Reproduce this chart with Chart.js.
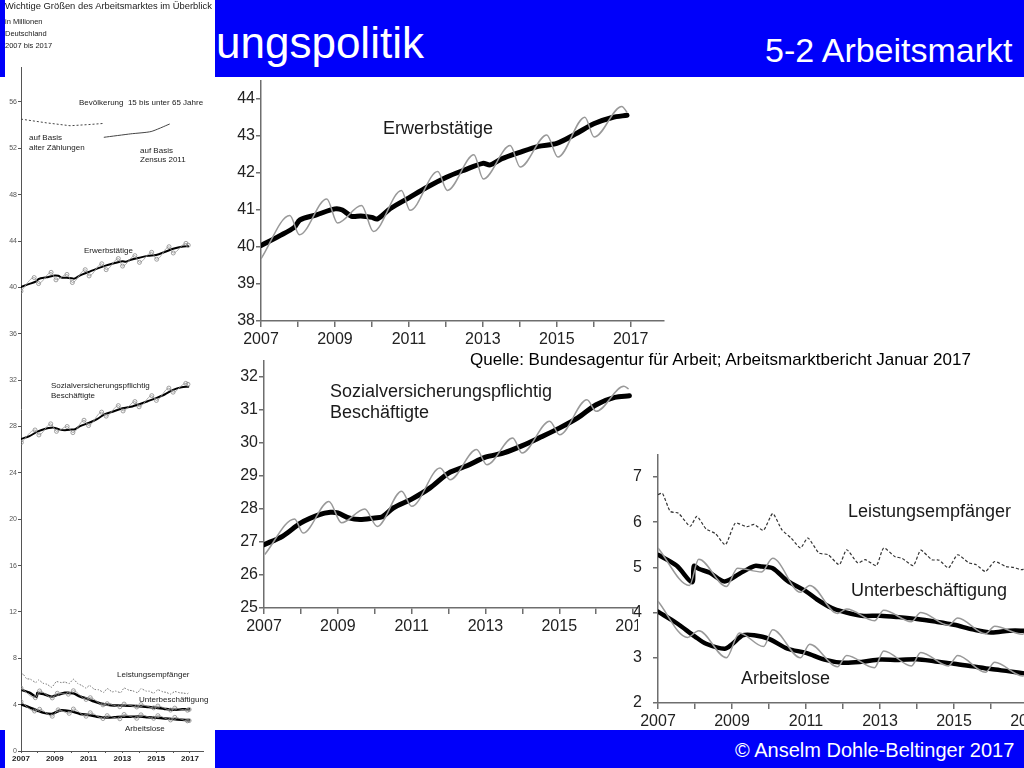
<!DOCTYPE html>
<html>
<head>
<meta charset="utf-8">
<script src="https://cdn.jsdelivr.net/npm/chart.js@4.4.1/dist/chart.umd.min.js"></script>
<style>
  body { margin: 0; width: 1024px; height: 768px; overflow: hidden; background: #fff;
         font-family: Arial, "Liberation Sans", sans-serif; position: relative; }
  .abs { position: absolute; }
  .t { position: absolute; white-space: nowrap; line-height: 1; color: #1a1a1a; }
  #header { left: 0; top: 0; width: 1024px; height: 77px; background: #0000fa; z-index: 0; }
  #footer { left: 0; top: 730px; width: 1024px; height: 38px; background: #0000fa; z-index: 5; }
  #leftPanel { left: 5px; top: 0; width: 210px; height: 768px; background: #fff; z-index: 6; }
  .clip { position: absolute; overflow: hidden; }
</style>
</head>
<body>
<div id="header" class="abs"></div>
<div class="t" style="left:216px;top:21px;font-size:44px;color:#fff;z-index:1">ungspolitik</div>
<div class="t" style="left:765px;top:33px;font-size:34px;color:#fff;z-index:1">5-2 Arbeitsmarkt</div>

<div class="abs" style="left:215px;top:77px;z-index:2"><canvas id="erwChart" width="455" height="280"></canvas></div>
<div class="t" style="left:383px;top:119px;font-size:18px;z-index:3">Erwerbstätige</div>
<div class="t" style="left:470px;top:351px;font-size:17px;color:#000;z-index:3">Quelle: Bundesagentur für Arbeit; Arbeitsmarktbericht Januar 2017</div>

<div class="clip" style="left:220px;top:355px;width:418px;height:295px;z-index:2"><canvas id="svbChart" width="480" height="295"></canvas></div>
<div class="t" style="left:330px;top:381px;font-size:18px;line-height:21px;z-index:3">Sozialversicherungspflichtig<br>Beschäftigte</div>

<div class="clip" style="left:628px;top:445px;width:396px;height:290px;z-index:3"><canvas id="aloChart" width="460" height="290"></canvas></div>
<div class="t" style="left:848px;top:502px;font-size:18px;z-index:4">Leistungsempfänger</div>
<div class="t" style="left:851px;top:581px;font-size:18px;z-index:4">Unterbeschäftigung</div>
<div class="t" style="left:741px;top:669px;font-size:18px;z-index:4">Arbeitslose</div>

<div id="footer" class="abs"></div>
<div class="t" style="left:735px;top:740px;font-size:20px;color:#fff;z-index:5">© Anselm Dohle-Beltinger 2017</div>

<div id="leftPanel" class="abs">
  <canvas id="overviewChart" width="210" height="768"></canvas>
  <div class="t" style="left:0;top:1px;font-size:9.4px">Wichtige Größen des Arbeitsmarktes im Überblick</div>
  <div class="t" style="left:0;top:18px;font-size:7.5px">in Millionen</div>
  <div class="t" style="left:0;top:30px;font-size:7.5px">Deutschland</div>
  <div class="t" style="left:0;top:42px;font-size:7.5px">2007 bis 2017</div>
  <div class="t" style="left:74px;top:99px;font-size:8px">Bevölkerung&nbsp; 15 bis unter 65 Jahre</div>
  <div class="t" style="left:24px;top:133px;font-size:8px;line-height:10px">auf Basis<br>alter Zählungen</div>
  <div class="t" style="left:135px;top:146px;font-size:8px;line-height:9px">auf Basis<br>Zensus 2011</div>
  <div class="t" style="left:79px;top:247px;font-size:8px">Erwerbstätige</div>
  <div class="t" style="left:46px;top:381px;font-size:8px;line-height:10px">Sozialversicherungspflichtig<br>Beschäftigte</div>
  <div class="t" style="left:112px;top:671px;font-size:8px">Leistungsempfänger</div>
  <div class="t" style="left:134px;top:696px;font-size:8px">Unterbeschäftigung</div>
  <div class="t" style="left:120px;top:725px;font-size:8px">Arbeitslose</div>
</div>

<script>
// Erwerbstätige (Mio.)
const erwTrendX = [2007.0, 2007.5, 2007.9, 2008.05, 2008.5, 2009.0, 2009.2, 2009.45, 2009.7, 2010.0, 2010.15, 2010.5, 2011.0, 2011.5, 2012.0, 2012.5, 2013.0, 2013.2, 2013.5, 2014.0, 2014.5, 2015.0, 2015.5, 2016.0, 2016.5, 2016.9];
const erwTrendY = [40.04, 40.3, 40.53, 40.73, 40.87, 41.03, 41.0, 40.83, 40.84, 40.8, 40.76, 41.04, 41.33, 41.62, 41.88, 42.08, 42.26, 42.22, 42.38, 42.56, 42.72, 42.8, 43.05, 43.33, 43.5, 43.56];
const erwRawX = [2007.0, 2007.78, 2008.04, 2008.78, 2009.07, 2009.72, 2010.04, 2010.8, 2011.03, 2011.78, 2012.04, 2012.76, 2013.01, 2013.74, 2014.01, 2014.73, 2015.03, 2015.76, 2016.01, 2016.76, 2016.9];
const erwRawY = [39.68, 40.85, 40.33, 41.3, 40.65, 41.12, 40.42, 41.53, 40.99, 42.04, 41.53, 42.49, 41.84, 42.74, 42.16, 43.03, 42.43, 43.51, 42.97, 43.8, 43.64];

// Sozialversicherungspflichtig Beschäftigte (Mio.)
const svbTrendX = [2007.0, 2007.5, 2008.0, 2008.5, 2008.8, 2009.0, 2009.3, 2009.6, 2010.0, 2010.2, 2010.5, 2011.0, 2011.5, 2012.0, 2012.5, 2013.0, 2013.5, 2014.0, 2014.5, 2015.0, 2015.5, 2016.0, 2016.5, 2016.9];
const svbTrendY = [26.92, 27.17, 27.58, 27.83, 27.9, 27.88, 27.73, 27.68, 27.73, 27.76, 28.03, 28.3, 28.64, 29.09, 29.31, 29.57, 29.7, 29.92, 30.18, 30.45, 30.76, 31.16, 31.38, 31.43];
const svbRawX = [2007.02, 2007.83, 2008.06, 2008.76, 2009.1, 2009.73, 2010.07, 2010.73, 2011.0, 2011.77, 2012.04, 2012.76, 2013.04, 2013.74, 2013.99, 2014.74, 2015.01, 2015.75, 2016.0, 2016.75, 2016.88];
const svbRawY = [26.62, 27.7, 27.27, 28.23, 27.58, 28.0, 27.47, 28.54, 28.08, 29.24, 28.89, 29.8, 29.34, 30.15, 29.7, 30.66, 30.25, 31.31, 30.96, 31.72, 31.64];

// Leistungsempfänger (Mio.)
const lstX = [2007.0, 2007.12, 2007.33, 2007.55, 2007.87, 2008.05, 2008.3, 2008.55, 2008.82, 2009.09, 2009.4, 2009.6, 2009.85, 2010.1, 2010.35, 2010.6, 2010.85, 2011.05, 2011.35, 2011.6, 2011.9, 2012.1, 2012.4, 2012.6, 2012.9, 2013.1, 2013.4, 2013.6, 2013.9, 2014.1, 2014.4, 2014.6, 2014.85, 2015.1, 2015.4, 2015.6, 2015.85, 2016.1, 2016.4, 2016.6, 2016.85, 2016.95];
const lstY = [6.61, 6.64, 6.24, 6.2, 5.91, 6.13, 5.85, 5.75, 5.5, 5.98, 5.9, 5.95, 5.82, 6.19, 5.83, 5.65, 5.43, 5.65, 5.32, 5.28, 5.06, 5.39, 5.1, 5.17, 5.04, 5.43, 5.24, 5.2, 5.04, 5.38, 5.17, 5.16, 4.99, 5.28, 5.1, 5.06, 4.91, 5.13, 5.02, 5.0, 4.95, 5.06];

// Unterbeschäftigung (Mio.)
const ubTrendX = [2007.0, 2007.5, 2007.92, 2007.97, 2008.1, 2008.4, 2008.8, 2009.2, 2009.6, 2009.8, 2010.1, 2010.5, 2011.0, 2011.3, 2011.7, 2012.0, 2012.5, 2013.0, 2013.5, 2014.0, 2014.5, 2015.0, 2015.5, 2016.0, 2016.5, 2016.95];
const ubTrendY = [5.28, 5.04, 4.67, 5.03, 4.97, 4.88, 4.69, 4.86, 5.03, 5.02, 4.98, 4.7, 4.47, 4.29, 4.1, 4.02, 3.93, 3.93, 3.9, 3.86, 3.8, 3.73, 3.63, 3.56, 3.6, 3.6];
const ubRawX = [2007.0, 2007.85, 2008.1, 2008.85, 2009.15, 2009.8, 2010.1, 2010.85, 2011.1, 2011.85, 2012.1, 2012.85, 2013.1, 2013.85, 2014.1, 2014.85, 2015.1, 2015.85, 2016.1, 2016.85, 2016.95];
const ubRawY = [5.43, 4.6, 5.18, 4.58, 4.98, 4.9, 5.2, 4.45, 4.6, 3.98, 4.08, 3.82, 4.05, 3.8, 4.0, 3.72, 3.88, 3.53, 3.7, 3.52, 3.58];

// Arbeitslose (Mio.)
const aloTrendX = [2007.0, 2007.5, 2008.0, 2008.3, 2008.8, 2009.0, 2009.3, 2009.6, 2010.0, 2010.5, 2011.0, 2011.5, 2012.0, 2012.5, 2013.0, 2013.5, 2014.0, 2014.5, 2015.0, 2015.5, 2016.0, 2016.5, 2016.95];
const aloTrendY = [4.02, 3.77, 3.47, 3.31, 3.2, 3.3, 3.5, 3.5, 3.42, 3.2, 3.11, 2.96, 2.89, 2.91, 2.96, 2.95, 2.97, 2.92, 2.87, 2.81, 2.75, 2.7, 2.65];
const aloRawX = [2007.0, 2007.8, 2008.1, 2008.85, 2009.2, 2009.85, 2010.1, 2010.85, 2011.1, 2011.85, 2012.1, 2012.85, 2013.1, 2013.85, 2014.1, 2014.85, 2015.1, 2015.85, 2016.1, 2016.85, 2016.95];
const aloRawY = [4.25, 3.45, 3.6, 3.0, 3.55, 3.25, 3.62, 3.0, 3.3, 2.8, 3.05, 2.78, 3.15, 2.82, 3.12, 2.82, 3.05, 2.68, 2.9, 2.6, 2.62];

// Bevölkerung 15 bis unter 65 Jahre (Mio.)
const bevAltX = [2007.0, 2008.5, 2009.9, 2011.0, 2011.9];
const bevAltY = [54.52, 54.2, 53.95, 54.05, 54.15];
const bevZensusX = [2011.9, 2013.5, 2014.7, 2015.8];
const bevZensusY = [52.95, 53.25, 53.45, 54.1];

const FONT = 'Arial, "Liberation Sans", sans-serif';

function pts(xs, ys) {
    return xs.map((x, i) => ({ x: x, y: ys[i] }));
}

function trend(xs, ys, width) {
    return {
        data: pts(xs, ys), showLine: true, pointRadius: 0,
        borderColor: '#000', borderWidth: width, tension: 0.3,
        borderCapStyle: 'round', borderJoinStyle: 'round'
    };
}

function raw(xs, ys, width, marks) {
    return {
        data: pts(xs, ys), showLine: true,
        pointRadius: marks ? 2 : 0, pointBorderWidth: 0.8,
        pointBackgroundColor: 'rgba(0,0,0,0)', pointBorderColor: '#888',
        borderColor: '#999', borderWidth: width, cubicInterpolationMode: 'monotone'
    };
}

function scales(o) {
    return {
        x: {
            type: 'linear', min: 2007, max: o.xMax,
            afterFit: s => { s.height = o.xH; s.paddingLeft = 0; s.paddingRight = 0; },
            border: { display: true, color: o.axis, width: o.axisW },
            grid: { drawOnChartArea: false, drawTicks: true, tickLength: o.xTick, color: o.axis, lineWidth: o.axisW },
            ticks: {
                stepSize: 1, includeBounds: false, autoSkip: false, maxRotation: 0,
                padding: o.xPad, color: o.xColor, font: o.xFont,
                callback: v => ((v - 2007) % 2 === 0 ? String(v) : '')
            }
        },
        y: {
            type: 'linear', min: o.yMin, max: o.yMax,
            // feste Achsenbreite, keine Extra-Polsterung für Beschriftungen
            afterFit: s => { s.width = o.yW; s.paddingTop = 0; s.paddingBottom = 0; },
            border: { display: true, color: o.axis, width: o.axisW },
            grid: { drawOnChartArea: false, drawTicks: true, tickLength: o.yTick, color: o.axis, lineWidth: o.axisW },
            ticks: {
                stepSize: o.yStep, includeBounds: false, padding: o.yPad,
                color: o.yColor, font: o.yFont,
                callback: v => String(v)
            }
        }
    };
}

function draw(id, datasets, o, padding) {
    new Chart(document.getElementById(id).getContext('2d'), {
        type: 'scatter',
        data: { datasets: datasets },
        options: {
            responsive: false,
            animation: false,
            layout: { padding: padding },
            scales: scales(o),
            plugins: { legend: { display: false }, tooltip: { enabled: false } }
        }
    });
}

const big = {
    axis: '#6e6e6e', axisW: 1.5, xTick: 6, yTick: 5, xPad: 3, yPad: 1,
    xColor: '#222', yColor: '#222',
    xFont: { family: FONT, size: 16 }, yFont: { family: FONT, size: 16 }, yStep: 1
};

// Erwerbstätige
draw('erwChart', [
    raw(erwRawX, erwRawY, 1.5, false),
    trend(erwTrendX, erwTrendY, 5)
], Object.assign({}, big, { xMax: 2017.9, xH: 36, yMin: 38, yMax: 44.5, yW: 46 }),
   { top: 3.5, right: 6, left: 0, bottom: 0 });

// Sozialversicherungspflichtig Beschäftigte
draw('svbChart', [
    raw(svbRawX, svbRawY, 1.5, false),
    trend(svbTrendX, svbTrendY, 5)
], Object.assign({}, big, { xMax: 2018, xH: 42, yMin: 25, yMax: 32.5, yW: 44 }),
   { top: 5.5, right: 30, left: 0, bottom: 0 });

// Leistungsempfänger, Unterbeschäftigung, Arbeitslose
draw('aloChart', [
    { data: pts(lstX, lstY), showLine: true, pointRadius: 0, borderColor: '#333', borderWidth: 1.2, borderDash: [3, 2], tension: 0.2 },
    raw(ubRawX, ubRawY, 1.5, false),
    raw(aloRawX, aloRawY, 1.5, false),
    trend(ubTrendX, ubTrendY, 4.5),
    trend(aloTrendX, aloTrendY, 4.5)
], Object.assign({}, big, { xMax: 2018, xH: 32, yMin: 2, yMax: 7.5, yW: 30, yPad: 11 }),
   { top: 9.4, right: 23, left: 0, bottom: 0 });

// Übersicht links
draw('overviewChart', [
    { data: pts(bevAltX, bevAltY), showLine: true, pointRadius: 0, borderColor: '#444', borderWidth: 1, borderDash: [2, 2] },
    { data: pts(bevZensusX, bevZensusY), showLine: true, pointRadius: 0, borderColor: '#444', borderWidth: 1, tension: 0.2 },
    raw(erwRawX, erwRawY, 0.8, true),
    raw(svbRawX, svbRawY, 0.8, true),
    { data: pts(lstX, lstY), showLine: true, pointRadius: 0, borderColor: '#555', borderWidth: 0.8, borderDash: [1.5, 1.5], tension: 0.2 },
    raw(ubRawX, ubRawY, 0.8, true),
    raw(aloRawX, aloRawY, 0.8, true),
    trend(erwTrendX, erwTrendY, 2),
    trend(svbTrendX, svbTrendY, 2),
    trend(ubTrendX, ubTrendY, 2.5),
    trend(aloTrendX, aloTrendY, 2.5)
], {
    axis: '#555', axisW: 1, xTick: 2, yTick: 3, xPad: 1, yPad: 1,
    xColor: '#222', yColor: '#555',
    xFont: { family: FONT, size: 8, weight: 'bold' }, yFont: { family: FONT, size: 7 },
    xMax: 2017.8, xH: 17, yMin: 0, yMax: 59, yW: 16, yStep: 4
}, { top: 67.2, right: 11.5, left: 0, bottom: 0 });
</script>
</body>
</html>
